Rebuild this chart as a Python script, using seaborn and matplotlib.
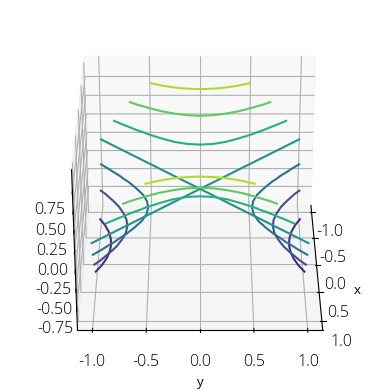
# Saddle contours seen along the x axis
import numpy as np
import matplotlib
matplotlib.use('Agg')
import matplotlib.pyplot as plt
import seaborn as sns

plt.rcParams['font.family'] = ['Open Sans', 'DejaVu Sans']
plt.rcParams['font.weight'] = 'light'
plt.rcParams['axes.unicode_minus'] = False

# Grid read in eighths, heights in 64ths
x_vals = [-1, -0.875, -0.75, -0.625, -0.5, -0.375, -0.25, -0.125, 0,
          0.125, 0.25, 0.375, 0.5, 0.625, 0.75, 0.875, 1]
y_vals = [-1, -0.875, -0.75, -0.625, -0.5, -0.375, -0.25, -0.125, 0,
          0.125, 0.25, 0.375, 0.5, 0.625, 0.75, 0.875, 1]
heights_64ths = [
    [0, 15, 28, 39, 48, 55, 60, 63, 64, 63, 60, 55, 48, 39, 28, 15, 0],
    [-15, 0, 13, 24, 33, 40, 45, 48, 49, 48, 45, 40, 33, 24, 13, 0, -15],
    [-28, -13, 0, 11, 20, 27, 32, 35, 36, 35, 32, 27, 20, 11, 0, -13, -28],
    [-39, -24, -11, 0, 9, 16, 21, 24, 25, 24, 21, 16, 9, 0, -11, -24, -39],
    [-48, -33, -20, -9, 0, 7, 12, 15, 16, 15, 12, 7, 0, -9, -20, -33, -48],
    [-55, -40, -27, -16, -7, 0, 5, 8, 9, 8, 5, 0, -7, -16, -27, -40, -55],
    [-60, -45, -32, -21, -12, -5, 0, 3, 4, 3, 0, -5, -12, -21, -32, -45, -60],
    [-63, -48, -35, -24, -15, -8, -3, 0, 1, 0, -3, -8, -15, -24, -35, -48, -63],
    [-64, -49, -36, -25, -16, -9, -4, -1, 0, -1, -4, -9, -16, -25, -36, -49, -64],
    [-63, -48, -35, -24, -15, -8, -3, 0, 1, 0, -3, -8, -15, -24, -35, -48, -63],
    [-60, -45, -32, -21, -12, -5, 0, 3, 4, 3, 0, -5, -12, -21, -32, -45, -60],
    [-55, -40, -27, -16, -7, 0, 5, 8, 9, 8, 5, 0, -7, -16, -27, -40, -55],
    [-48, -33, -20, -9, 0, 7, 12, 15, 16, 15, 12, 7, 0, -9, -20, -33, -48],
    [-39, -24, -11, 0, 9, 16, 21, 24, 25, 24, 21, 16, 9, 0, -11, -24, -39],
    [-28, -13, 0, 11, 20, 27, 32, 35, 36, 35, 32, 27, 20, 11, 0, -13, -28],
    [-15, 0, 13, 24, 33, 40, 45, 48, 49, 48, 45, 40, 33, 24, 13, 0, -15],
    [0, 15, 28, 39, 48, 55, 60, 63, 64, 63, 60, 55, 48, 39, 28, 15, 0],
]
levels = [-0.75, -0.5, -0.25, 0, 0.25, 0.5, 0.75]
xy_ticks = [-1.0, -0.5, 0.0, 0.5, 1.0]

fig = plt.figure(figsize=(3.89, 3.89), dpi=100)
ax = fig.add_axes([0.026, 0.026, 0.951, 0.951], projection='3d')

X, Y = np.meshgrid(x_vals, y_vals, indexing='ij')
Z = np.array(heights_64ths) / 64
ax.contour(X, Y, Z, levels=levels, cmap=sns.color_palette('viridis', as_cmap=True),
           vmin=-1, vmax=1, linewidths=1.5)

ax.view_init(elev=30, azim=0)
ax.set_xlim(-1.14, 1.14)
ax.set_ylim(-1.14, 1.14)
ax.set_zlim(-1.02, 1.02)
ax.set_xticks(xy_ticks)
ax.set_yticks(xy_ticks)
ax.set_zticks(levels)
ax.tick_params(labelsize=11.5)
ax.set_xlabel('x', fontsize=9.5)
ax.set_ylabel('y', fontsize=9.5)

fig.savefig('out.png', dpi=100)
